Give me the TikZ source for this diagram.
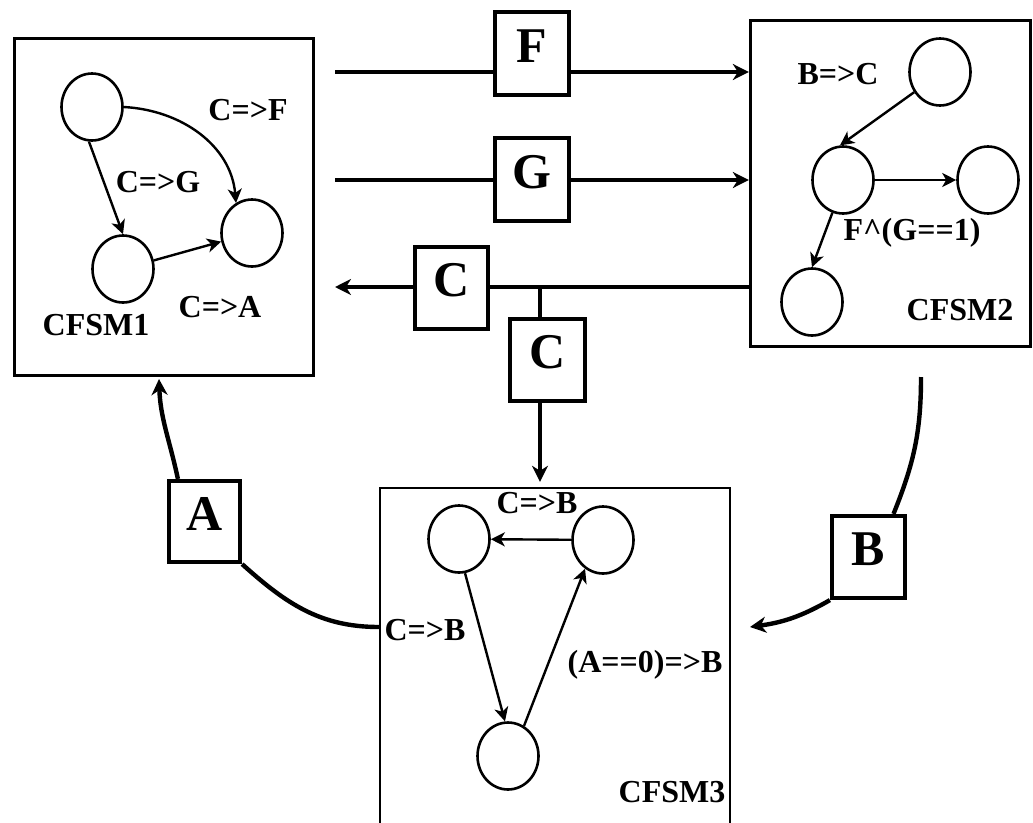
\documentclass[tikz,border=0pt]{standalone}
\usepackage{fontspec}
\setmainfont{Liberation Serif}
\usetikzlibrary{arrows.meta,shapes.geometric}
\begin{document}
\begin{tikzpicture}[x=1pt,y=-1pt,
  st/.style={draw, ellipse, line width=2.6pt, minimum width=61pt, minimum height=67pt, inner sep=0pt},
  lbl/.style={font=\fontsize{32}{32}\selectfont\bfseries, inner sep=0pt},
  msg/.style={draw, fill=white, line width=4.2pt, minimum width=74pt, minimum height=83pt, inner sep=0pt,
    text height=34pt, text depth=17pt, font=\fontsize{50}{50}\selectfont\bfseries},
  fsm/.style={draw, line width=3.3pt, inner sep=0pt},
  thinarr/.style={line width=2.4pt, -{Stealth[length=14pt,width=14pt,inset=4pt]}},
  thickline/.style={line width=4.4pt},
  thickarr/.style={line width=4.4pt, -{Stealth[length=16pt,width=16pt,inset=5pt]}}
]
\clip (0,0) rectangle (1033,822);
\fill[white] (0,0) rectangle (1033,822);

% CFSM boxes
\node[fsm, minimum width=299pt, minimum height=337pt] (c1) at (164,207) {};
\node[fsm, minimum width=280pt, minimum height=326pt] (c2) at (890.5,183.5) {};
\node[fsm, line width=2.4pt, minimum width=350pt, minimum height=351pt] (c3) at (555,663.5) {};

% CFSM1 states
\node[st] (s11) at (92,107) {};
\node[st] (s12) at (123,269) {};
\node[st] (s13) at (252,233) {};
\draw[thinarr] (s11.265) -- (s12.north);
\draw[thinarr] (s11.east) to[out=-3,in=95] (s13.118);
\draw[thinarr] (s12) -- (s13);
\node[lbl] (l11) at (248,110) {C=>F};
\node[lbl] (l12) at (158,182) {C=>G};
\node[lbl] (l13) at (220,307) {C=>A};
\node[lbl] (l14) at (96,325) {CFSM1};

% CFSM2 states
\node[st] (s21) at (940,72) {};
\node[st] (s22) at (843,180) {};
\node[st] (s23) at (988,180) {};
\node[st] (s24) at (812,302) {};
\draw[thinarr] (s21.218) -- (s22.95);
\draw[thinarr] (s22) -- (s23);
\draw[thinarr] (s22.252) -- (s24.north);
\node[lbl] (l21) at (838,74) {B=>C};
\node[lbl] (l22) at (912,233) {F\textasciicircum(G==1)};
\node[lbl] (l23) at (960,310) {CFSM2};

% CFSM3 states
\node[st] (t1) at (459,539) {};
\node[st] (t2) at (603,540) {};
\node[st] (t3) at (508,756) {};
\draw[thinarr] (t2) -- (t1);
\draw[thinarr] (t1.280) -- (t3.95);
\draw[thinarr] (t3.62) -- (t2.238);
\node[lbl] (l31) at (537,503) {C=>B};
\node[lbl] (l32) at (425,630) {C=>B};
\node[lbl] (l33) at (645,665) {(A==0)=>B};
\node[lbl] (l34) at (672,792) {CFSM3};

% messages
\node[msg] (F) at (532,53.5) {F};
\node[msg] (G) at (532,179.5) {G};
\node[msg, minimum width=73pt, minimum height=82pt] (C) at (451.5,288) {C};
\node[msg, minimum width=75pt, minimum height=82pt] (C2) at (547.5,360) {C};
\node[msg, minimum width=71pt, minimum height=81pt] (A) at (204.5,521.5) {A};
\node[msg, minimum width=73pt, minimum height=82pt] (B) at (868.5,557) {B};

\coordinate (f0) at (335,72);
\coordinate (g0) at (335,180);
\coordinate (c0) at (335,287);
\coordinate (cj) at (540,287);
\coordinate (a0) at (379,627);
\coordinate (b0) at (921,377);
\coordinate (b1) at (750,627);

\draw[thickline] (f0) -- (F.west |- f0);
\draw[thickarr] (F.east |- f0) -- (c2.west |- f0);
\draw[thickline] (g0) -- (G.west |- g0);
\draw[thickarr] (G.east |- g0) -- (c2.west |- g0);
\draw[thickline] (c2.west |- cj) -- (C.east |- cj);
\draw[thickarr] (C.west |- cj) -- (c0);
\draw[thickline] (cj) -- (cj |- C2.north);
\draw[thickarr, shorten >=5pt] (cj |- C2.south) -- (cj |- c3.north);

% A curve
\draw[thickline] (a0) to[out=180,in=-42] (A.south east);
\draw[thickarr] ([xshift=11pt]A.north west) to[out=102,in=-88] (159,379);
% B curve
\draw[thickline] (b0) to[out=-90,in=68] ([xshift=25pt]B.north);
\draw[thickarr] (B.south west) to[out=-150,in=8] (b1);
\end{tikzpicture}
\end{document}
